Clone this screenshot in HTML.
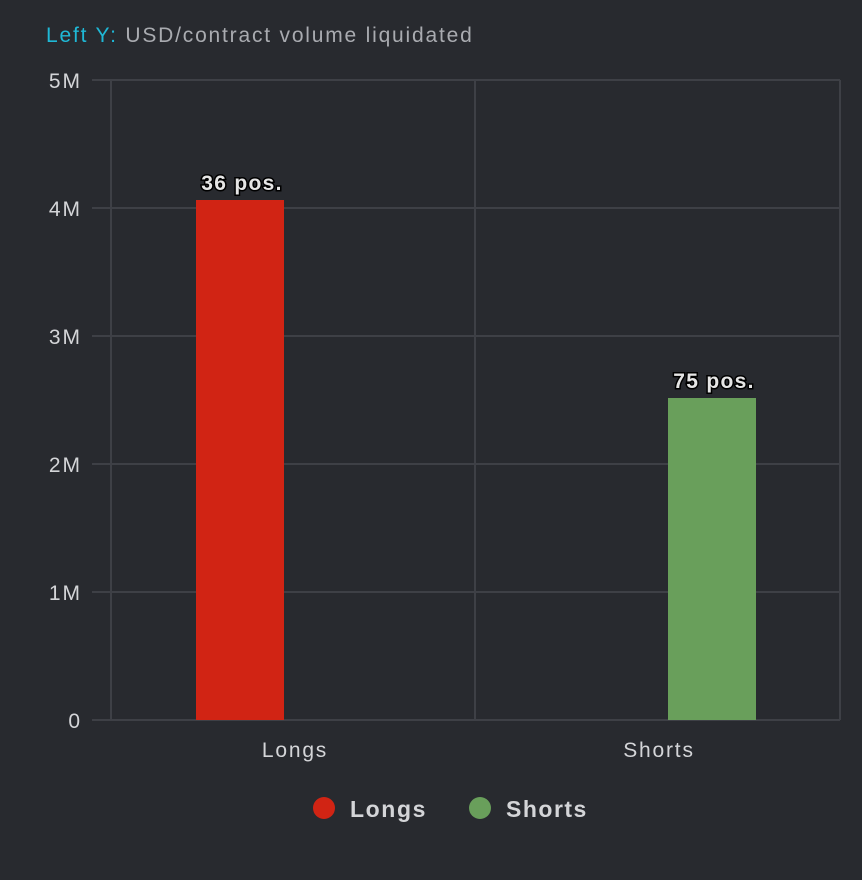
<!DOCTYPE html>
<html><head><style>
body{margin:0;background:#282a2f;}
svg{display:block;font-family:"Liberation Sans",sans-serif;}
</style></head><body>
<svg width="862" height="880" viewBox="0 0 862 880">
<rect width="862" height="880" fill="#282a2f"/>
<text x="46" y="42" font-size="21" fill="#1fb8d6" letter-spacing="1.8">Left Y: <tspan fill="#a9abb0">USD/contract volume liquidated</tspan></text>
<g stroke="#3e4046" stroke-width="2">
<line x1="92" y1="80" x2="840" y2="80"/>
<line x1="92" y1="208" x2="840" y2="208"/>
<line x1="92" y1="336" x2="840" y2="336"/>
<line x1="92" y1="464" x2="840" y2="464"/>
<line x1="92" y1="592" x2="840" y2="592"/>
<line x1="92" y1="720" x2="840" y2="720"/>
<line x1="111" y1="80" x2="111" y2="720"/>
<line x1="475" y1="80" x2="475" y2="720"/>
<line x1="840" y1="80" x2="840" y2="720"/>
</g>
<g font-size="21" fill="#d4d5d8" text-anchor="end" letter-spacing="2">
<text x="82" y="88">5M</text>
<text x="82" y="216">4M</text>
<text x="82" y="344">3M</text>
<text x="82" y="472">2M</text>
<text x="82" y="600">1M</text>
<text x="82" y="728">0</text>
</g>
<rect x="196" y="200" width="88" height="520" fill="#d12414"/>
<rect x="668" y="398" width="88" height="322" fill="#699f5b"/>
<g font-size="21" font-weight="bold" fill="#e6e6e6" stroke="#000" stroke-width="3" paint-order="stroke" text-anchor="middle" letter-spacing="1.3">
<text x="242" y="190">36 pos.</text>
<text x="714" y="388">75 pos.</text>
</g>
<g font-size="21" fill="#d4d5d8" text-anchor="middle" letter-spacing="1.8">
<text x="295" y="757">Longs</text>
<text x="659" y="757">Shorts</text>
</g>
<circle cx="324" cy="808" r="11" fill="#d12414"/>
<text x="350" y="817" font-size="23" font-weight="bold" fill="#d4d5d8" letter-spacing="1.6">Longs</text>
<circle cx="480" cy="808" r="11" fill="#699f5b"/>
<text x="506" y="817" font-size="23" font-weight="bold" fill="#d4d5d8" letter-spacing="1.5">Shorts</text>
</svg>
</body></html>
